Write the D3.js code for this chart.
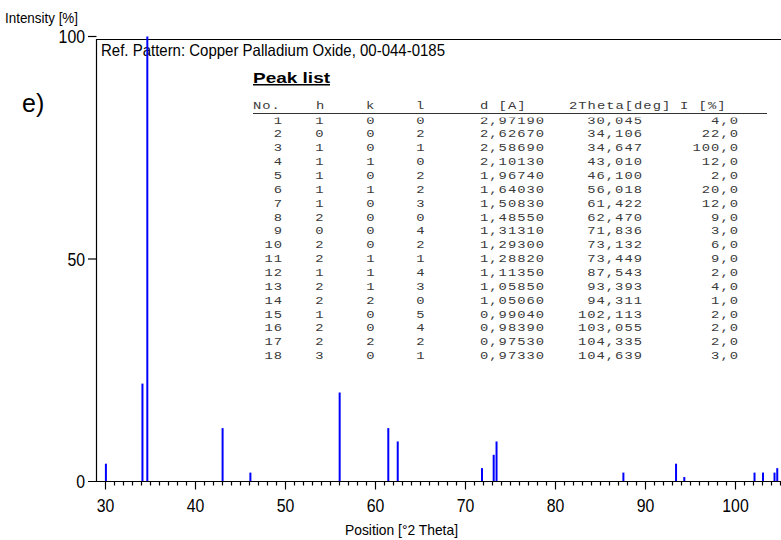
<!DOCTYPE html>
<html>
  <head>
    <meta charset="utf-8">
    <title>Copper Palladium Oxide</title>
    <style>
      body { margin: 0; padding: 0; background: #fff; }
      svg { display: block; }
      .lbl { font-family: 'Liberation Sans', Arial, sans-serif; fill: #000; }
      .mono { font-family: 'Liberation Mono', 'DejaVu Sans Mono', monospace; font-size: 11.5px; letter-spacing: 0.85px; fill: #3a3a3a; }
    </style>
  </head>
  <body>
    <div id="chart"></div>
    <script src="https://cdnjs.cloudflare.com/ajax/libs/d3/7.8.5/d3.min.js"></script>
    <script>
      // peak table
      const nums = [1,2,3,4,5,6,7,8,9,10,11,12,13,14,15,16,17,18];
      const hs = [1,0,1,1,1,1,1,2,0,2,2,1,2,2,1,2,2,3];
      const ks = [0,0,0,1,0,1,0,0,0,0,1,1,1,2,0,0,2,0];
      const ls = [0,2,1,0,2,2,3,0,4,2,1,4,3,0,5,4,2,1];
      const dSpacing = ["2,97190","2,62670","2,58690","2,10130","1,96740","1,64030","1,50830","1,48550","1,31310",
                        "1,29300","1,28820","1,11350","1,05850","1,05060","0,99040","0,98390","0,97530","0,97330"];
      const twoTheta = [30.045,34.106,34.647,43.010,46.100,56.018,61.422,62.470,71.836,
                        73.132,73.449,87.543,93.393,94.311,102.113,103.055,104.335,104.639];
      const intensity = [4,22,100,12,2,20,12,9,3,6,9,2,4,1,2,2,2,3];
      const xTicks = [30,40,50,60,70,80,90,100];
      const yTicks = [0,50,100];

      const W = 781, H = 540;
      const svg = d3.select('#chart').append('svg').attr('width', W).attr('height', H);

      const x = d3.scaleLinear().domain([29, 105]).range([96.5, 780.5]);
      const y = d3.scaleLinear().domain([0, 100]).range([481.5, 36.5]);

      // the original uses a condensed face: squeeze Liberation Sans
      function narrow(g, px, py, txt, size, sx, anchor) {
        return g.append('text').attr('class', 'lbl')
          .attr('transform', `translate(${px},${py}) scale(${sx},1)`)
          .attr('text-anchor', anchor || 'start')
          .style('font-size', size + 'px').text(txt);
      }
      // table text: a wide courier-like look
      function cell(g, px, py, txt, anchor) {
        return g.append('text')
          .attr('transform', `translate(${px},${py}) scale(1.2,1)`)
          .attr('text-anchor', anchor || 'start').text(txt);
      }

      // frame of the reference pattern box
      svg.append('path')
        .attr('d', `M96.5,${y(0)}V39.5H781`)
        .attr('fill', 'none').attr('stroke', '#000').attr('stroke-width', 1.2);

      svg.append('text').attr('class', 'lbl').attr('x', 101).attr('y', 56)
        .style('font-size', '16.5px')
        .attr('textLength', 344).attr('lengthAdjust', 'spacingAndGlyphs')
        .text('Ref. Pattern: Copper Palladium Oxide, 00-044-0185');

      svg.append('text').attr('x', 22).attr('y', 112)
        .style('font-family', "'Liberation Sans', Arial, sans-serif").style('font-size', '25px')
        .text('e)');

      svg.append('text').attr('x', 253).attr('y', 83)
        .style('font-family', "'Liberation Sans', Arial, sans-serif").style('font-size', '15px')
        .style('font-weight', 'bold').style('text-decoration', 'underline')
        .attr('textLength', 77).attr('lengthAdjust', 'spacingAndGlyphs')
        .text('Peak list');

      // table header
      const head = svg.append('g').attr('class', 'mono');
      [['No.', 253], ['h', 316], ['k', 366], ['l', 416], ['d [A]', 480], ['2Theta[deg]', 569], ['I [%]', 680]]
        .forEach(([t, px]) => cell(head, px, 109, t));
      svg.append('line').attr('x1', 253).attr('x2', 767).attr('y1', 113.5).attr('y2', 113.5)
        .attr('stroke', '#333').attr('stroke-width', 1);

      svg.append('clipPath').attr('id', 'rowsClip')
        .append('rect').attr('x', 240).attr('y', 117.5).attr('width', 540).attr('height', 260);

      const fmt = v => v.toFixed(3).replace('.', ',');
      const body = svg.append('g').attr('class', 'mono').attr('clip-path', 'url(#rowsClip)');
      nums.forEach((n, i) => {
        const ry = 123.6 + i * 13.85;
        cell(body, 283, ry, n, 'end');
        cell(body, 320, ry, hs[i], 'middle');
        cell(body, 371, ry, ks[i], 'middle');
        cell(body, 421, ry, ls[i], 'middle');
        cell(body, 480, ry, dSpacing[i]);
        cell(body, 643, ry, fmt(twoTheta[i]), 'end');
        cell(body, 739, ry, intensity[i].toFixed(1).replace('.', ','), 'end');
      });

      // peaks
      svg.append('g').selectAll('line').data(twoTheta).join('line')
        .attr('x1', d => x(d)).attr('x2', d => x(d))
        .attr('y1', y(0)).attr('y2', (d, i) => y(intensity[i]))
        .attr('stroke', '#0000ff').attr('stroke-width', 2);

      // x axis
      const xAxis = svg.append('g').attr('transform', `translate(0,${y(0)})`);
      xAxis.append('line').attr('x1', 88).attr('x2', 781).attr('stroke', '#000').attr('stroke-width', 1.2);
      xAxis.selectAll('.tk').data(d3.range(30, 106)).join('line').attr('class', 'tk')
        .attr('x1', d => x(d)).attr('x2', d => x(d)).attr('y1', 0)
        .attr('y2', d => xTicks.includes(d) ? 8 : 4)
        .attr('stroke', '#000').attr('stroke-width', 1.2);
      xTicks.forEach(t => narrow(xAxis, x(t), 30, t, 18, 0.88, 'middle'));

      // y axis
      const yAxis = svg.append('g');
      yAxis.selectAll('line').data(yTicks.filter(d => d > 0)).join('line')
        .attr('x1', 88).attr('x2', 96.5).attr('y1', d => y(d)).attr('y2', d => y(d))
        .attr('stroke', '#000').attr('stroke-width', 1.2);
      yTicks.forEach(t => narrow(yAxis, 85, y(t) + 6.5, t, 18, 0.88, 'end'));

      svg.append('text').attr('class', 'lbl').attr('x', 5).attr('y', 23)
        .style('font-size', '14px').attr('textLength', 73).attr('lengthAdjust', 'spacingAndGlyphs')
        .text('Intensity [%]');
      svg.append('text').attr('class', 'lbl').attr('x', 345).attr('y', 535)
        .style('font-size', '15px').attr('textLength', 113).attr('lengthAdjust', 'spacingAndGlyphs')
        .text('Position [°2 Theta]');
    </script>
  </body>
</html>
